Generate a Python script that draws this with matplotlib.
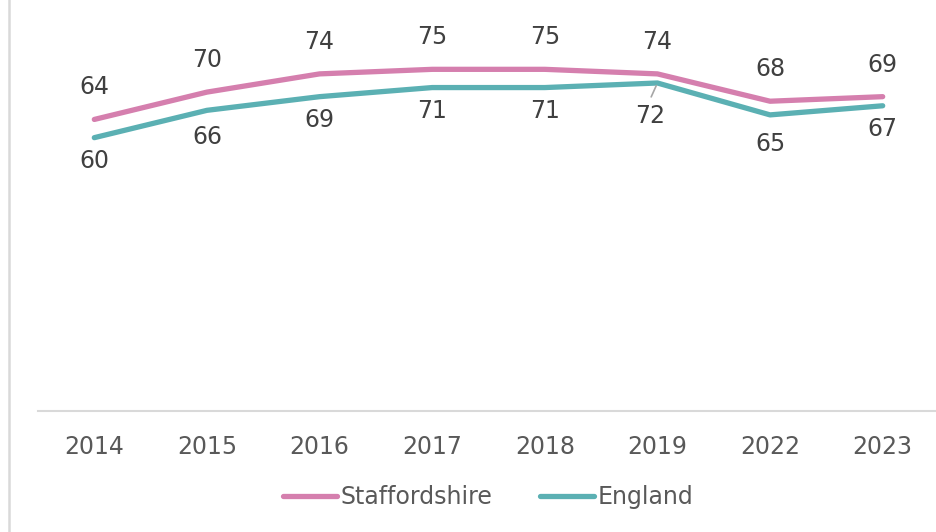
import matplotlib.pyplot as plt
from matplotlib.lines import Line2D
import numpy as np

plt.rcParams["font.family"] = ["DejaVu Sans"]

years = ["2014", "2015", "2016", "2017", "2018", "2019", "2022", "2023"]
staffordshire = [64, 70, 74, 75, 75, 74, 68, 69]
england = [60, 66, 69, 71, 71, 72, 65, 67]

PINK = "#d57fae"
TEAL = "#5bb0b3"
LABEL_COL = "#404040"
TICK_COL = "#595959"

fig = plt.figure(figsize=(9.37, 5.32), dpi=100)
ax = fig.add_axes([38 / 937, 121 / 532, 901 / 937, 410 / 532])

x = np.arange(len(years))
ax.plot(x, staffordshire, color=PINK, lw=3.8, solid_capstyle="round", label="Staffordshire")
ax.plot(x, england, color=TEAL, lw=3.8, solid_capstyle="round", label="England")

ax.set_xlim(-0.5, len(years) - 0.5)
ax.set_ylim(0, 90)

# data labels: Staffordshire above, England below
for xi, v in zip(x, staffordshire):
    ax.annotate(str(v), (xi, v), xytext=(0, 23), textcoords="offset points",
                ha="center", va="center", fontsize=17, color=LABEL_COL)

# offsets in points for England labels (Excel places them a bit unevenly)
eng_off = {1: (0, -19), 5: (-5, -24), 6: (0, -21)}
for i, (xi, v) in enumerate(zip(x, england)):
    dx, dy = eng_off.get(i, (0, -17))
    ax.annotate(str(v), (xi, v), xytext=(dx, dy), textcoords="offset points",
                ha="center", va="center", fontsize=17, color=LABEL_COL)

# leader line for the 2019 England label
ax.annotate("", (5, england[5]), xytext=(-4.5, -10), textcoords="offset points",
            arrowprops=dict(arrowstyle="-", color="#a6a6a6", lw=1.2,
                            shrinkA=0, shrinkB=2))

ax.set_xticks(x)
ax.set_xticklabels(years, fontsize=17, color=TICK_COL)
ax.tick_params(axis="x", length=0, pad=17)
ax.set_yticks([])
for s in ["top", "right", "left"]:
    ax.spines[s].set_visible(False)
ax.spines["bottom"].set_color("#d9d9d9")
ax.spines["bottom"].set_linewidth(1.5)

leg = fig.legend(loc="center", bbox_to_anchor=(488 / 937, 1 - 497 / 532), ncol=2,
                 frameon=False, fontsize=17, handlelength=2.3, handletextpad=0.15,
                 columnspacing=2.0)
for t in leg.get_texts():
    t.set_color(TICK_COL)

# thin frame line on the left edge
fig.add_artist(Line2D([9 / 937, 9 / 937], [0, 1], color="#d9d9d9", lw=1.8,
                      transform=fig.transFigure))

fig.savefig("out.png", dpi=100)
